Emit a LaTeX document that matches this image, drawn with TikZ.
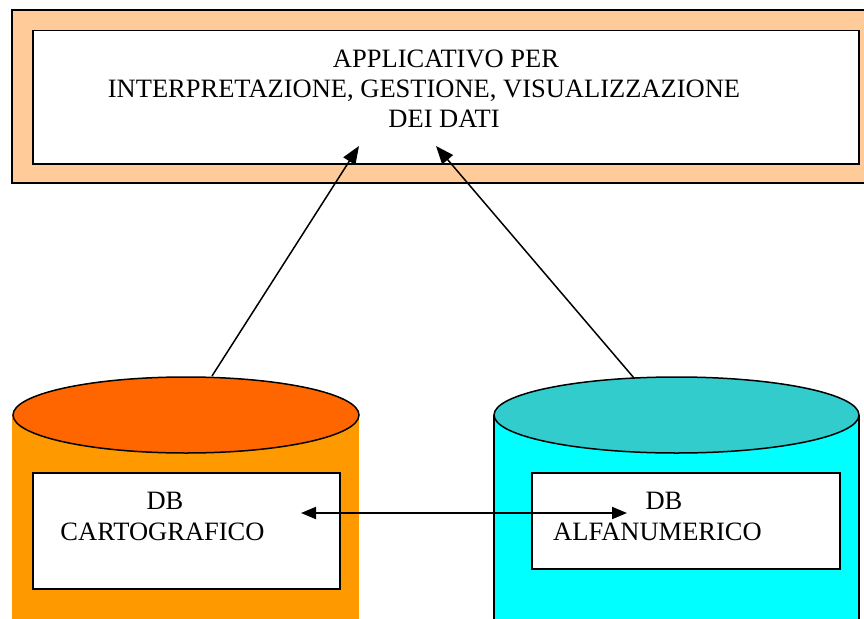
\documentclass[tikz,border=0pt]{standalone}
\usepackage{fontspec}
\setmainfont{Liberation Serif}
\usetikzlibrary{arrows.meta}
\definecolor{peach}{HTML}{FFCC99}
\definecolor{dborange}{HTML}{FF9900}
\definecolor{dbtopor}{HTML}{FF6600}
\definecolor{dbteal}{HTML}{33CCCC}
\definecolor{dbcyan}{HTML}{00FFFF}
\begin{document}
\begin{tikzpicture}[x=1pt,y=-1pt,
  lbl/.style={font=\fontsize{26.5}{30}\selectfont, inner sep=0pt, anchor=base},
  box/.style={draw=black, line width=1.5pt, fill=white, inner sep=0pt, anchor=north west},
  arr/.style={-{Triangle[length=18pt,width=14pt]}, line width=1.5pt},
  dbl/.style={{Triangle[length=15pt,width=12pt]}-{Triangle[length=15pt,width=12pt]}, line width=2pt},
  topell/.style={draw=black, line width=1.5pt}]
\useasboundingbox (0,0) rectangle (864,618);
\fill[white] (0,0) rectangle (864,618);
% application frame
\path[draw=black, line width=1.8pt, fill=peach] (12,10) rectangle (880,183);
\node[box, minimum width=826pt, minimum height=133pt] (app) at (32,30) {};
\node[lbl] (t1) at (446,67) {APPLICATIVO PER};
\node[lbl] (t2) at (424,97) {INTERPRETAZIONE, GESTIONE, VISUALIZZAZIONE};
\node[lbl] (t3) at (444,127) {DEI DATI};
% left cylinder
\fill[dborange] (12,415) rectangle (359,630);
\path[topell, fill=dbtopor] (186,415) ellipse [x radius=173, y radius=38];
\node[box, minimum width=307pt, minimum height=116pt] (carto) at (32,472) {};
\node[lbl] (c1) at (165,509) {DB};
\node[lbl] (c2) at (162.5,540) {CARTOGRAFICO};
% right cylinder
\path[fill=dbcyan] (494,415) rectangle (859,630);
\draw[line width=1.5pt] (494,415) -- (494,630) (859,415) -- (859,630);
\path[topell, fill=dbteal] (676.5,415) ellipse [x radius=182.5, y radius=38];
\node[box, minimum width=308pt, minimum height=96pt] (alfa) at (531,472) {};
\node[lbl] (a1) at (664,509) {DB};
\node[lbl] (a2) at (657.5,540) {ALFANUMERICO};
% connectors
\coordinate (ls) at (212,376);
\coordinate (le) at (359,146);
\coordinate (rs) at (634,378);
\coordinate (re) at (436,146);
\coordinate (hl) at (301,513);
\coordinate (hr) at (627,513);
\draw[arr] (ls) -- (le);
\draw[arr] (rs) -- (re);
\draw[dbl] (hl) -- (hr);
\end{tikzpicture}
\end{document}
